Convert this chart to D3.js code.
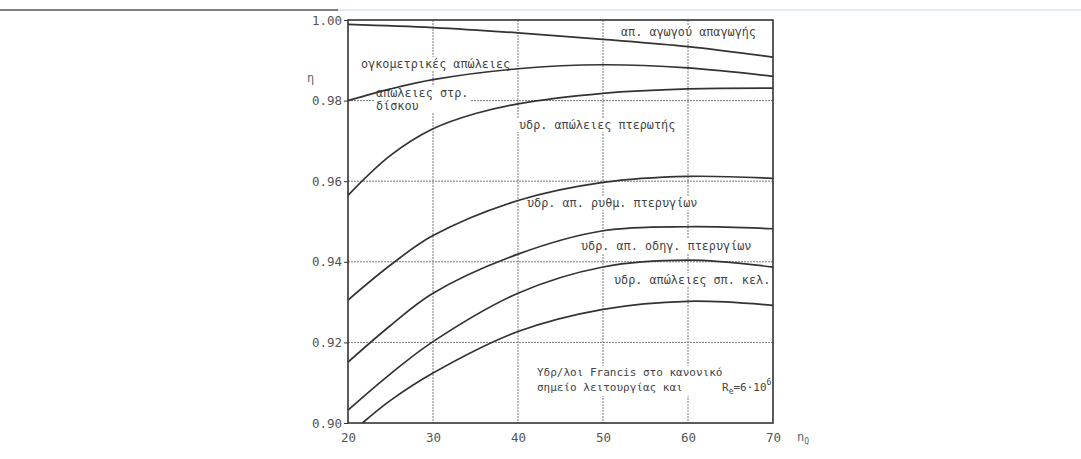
<!DOCTYPE html>
<html><head><meta charset="utf-8">
<script src="https://cdn.jsdelivr.net/npm/d3@7"></script>
<style>
html,body{margin:0;padding:0;background:#fff;}
svg{display:block;}
text{font-family:"DejaVu Sans Mono","Liberation Mono",monospace;}
</style></head>
<body>
<script>
// ---- data ----
const xTicks = [20, 30, 40, 50, 60, 70];
const yTicks = [0.90, 0.92, 0.94, 0.96, 0.98, 1.00];

const xA = [20, 30, 40, 50, 60, 70];
const yA = [0.9989, 0.9981, 0.9968, 0.9952, 0.9934, 0.9908];
const xB = [20, 25, 30, 40, 50, 60, 70];
const yB = [0.9800, 0.9829, 0.9852, 0.9879, 0.9889, 0.9881, 0.9860];
const xC = [20, 25, 30, 35, 40, 50, 60, 70];
const yC = [0.9565, 0.9664, 0.9730, 0.9768, 0.9792, 0.9818, 0.9829, 0.9831];
const xD = [20, 25, 30, 40, 50, 60, 70];
const yD = [0.9305, 0.9392, 0.9465, 0.9552, 0.9597, 0.9612, 0.9607];
const xE = [20, 25, 30, 40, 50, 60, 70];
const yE = [0.9151, 0.9242, 0.9322, 0.9419, 0.9477, 0.9487, 0.9482];
const xF = [20, 25, 30, 40, 50, 60, 70];
const yF = [0.9032, 0.9122, 0.9202, 0.9322, 0.9387, 0.9404, 0.9387];
const xG = [21.7, 25, 30, 40, 50, 60, 70];
const yG = [0.9000, 0.9056, 0.9124, 0.9227, 0.9282, 0.9302, 0.9292];

const curveX = [xA, xB, xC, xD, xE, xF, xG];
const curveY = [yA, yB, yC, yD, yE, yF, yG];

const regionLabels = [
  ["απ. αγωγού απαγωγής"],
  ["ογκομετρικές απώλειες"],
  ["απώλειες στρ.", "δίσκου"],
  ["υδρ. απώλειες πτερωτής"],
  ["υδρ. απ. ρυθμ. πτερυγίων"],
  ["υδρ. απ. οδηγ. πτερυγίων"],
  ["υδρ. απώλειες σπ. κελ."]
];
const noteLines = ["Υδρ/λοι Francis στο κανονικό", "σημείο λειτουργίας και"];

// ---- layout ----
const W = 1081, H = 459;
const svg = d3.select("body").append("svg").attr("width", W).attr("height", H);

const x = d3.scaleLinear().domain([20, 70]).range([348, 773]);
const y = d3.scaleLinear().domain([0.90, 1.00]).range([423, 20]);

// scan edge line at top
svg.append("line").attr("x1", 0).attr("x2", 338).attr("y1", 10).attr("y2", 10)
  .attr("stroke", "#555").attr("stroke-width", 1.5);
svg.append("line").attr("x1", 338).attr("x2", W).attr("y1", 10).attr("y2", 10)
  .attr("stroke", "#d6e6ef").attr("stroke-width", 1.5);

// gridlines
const grid = svg.append("g").attr("stroke", "#7a7a7a").attr("stroke-width", 1)
  .attr("stroke-dasharray", "2,1").attr("fill", "none");
grid.selectAll(".gx").data(xTicks.slice(1, -1)).join("line")
  .attr("x1", d => x(d)).attr("x2", d => x(d)).attr("y1", y(1.0)).attr("y2", y(0.90));
grid.selectAll(".gy").data(yTicks.slice(1, -1)).join("line")
  .attr("x1", x(20)).attr("x2", x(70)).attr("y1", d => y(d)).attr("y2", d => y(d));

// labels inside plot (with white backgrounds hiding grid)
const labG = svg.append("g");
const labelPos = [
  [621, 36], [361, 68], [376, 97], [519, 129], [527, 207], [581, 250], [614, 284]
];
function addLabel(lines, px, py, lh, fs) {
  const g = labG.append("g");
  const t = g.append("text").attr("font-size", fs).attr("fill", "#444");
  lines.forEach((s, i) => {
    t.append("tspan").attr("x", px).attr("y", py + i * lh).text(s);
  });
  return g;
}
regionLabels.forEach((ls, i) => addLabel(ls, labelPos[i][0], labelPos[i][1], 13, 11.8));

// note
const note = addLabel(noteLines, 537, 376, 15, 11);
const reT = note.append("text").attr("font-size", 11).attr("fill", "#444").attr("x", 722).attr("y", 391);
reT.append("tspan").text("R");
reT.append("tspan").attr("font-size", 8).attr("dy", 3).text("e");
reT.append("tspan").attr("dy", -3).text("=6·10");
reT.append("tspan").attr("font-size", 8).attr("dy", -6).text("6");

// white backgrounds
labG.selectAll("g").each(function() {
  const b = this.getBBox();
  d3.select(this).insert("rect", "text")
    .attr("x", b.x - 2).attr("y", b.y).attr("width", b.width + 4).attr("height", b.height)
    .attr("fill", "#fff");
});

// curves
const line = d3.line().x(d => x(d[0])).y(d => y(d[1])).curve(d3.curveCatmullRom.alpha(0.5));
svg.append("g").selectAll("path").data(curveX.map((xs, i) => xs.map((v, j) => [v, curveY[i][j]])))
  .join("path").attr("d", line).attr("fill", "none").attr("stroke", "#333").attr("stroke-width", 1.7);

// frame
svg.append("rect").attr("x", x(20)).attr("y", y(1.0)).attr("width", x(70) - x(20)).attr("height", y(0.90) - y(1.0))
  .attr("fill", "none").attr("stroke", "#333").attr("stroke-width", 1.6);

// axes
const yAxis = d3.axisLeft(y).tickValues(yTicks).tickFormat(d3.format(".2f")).tickSize(4).tickPadding(2);
const gy = svg.append("g").attr("transform", `translate(${x(20)},0)`).call(yAxis);
gy.select(".domain").remove();
gy.selectAll("line").attr("stroke", "#333");
gy.selectAll("text").attr("font-size", 12.5).attr("fill", "#555").attr("font-family", "DejaVu Sans Mono");

const xAxis = d3.axisBottom(x).tickValues(xTicks).tickSize(0).tickPadding(10);
const gx = svg.append("g").attr("transform", `translate(0,${y(0.90)})`).call(xAxis);
gx.select(".domain").remove();
gx.selectAll("text").attr("font-size", 12.5).attr("fill", "#555").attr("font-family", "DejaVu Sans Mono");

// axis symbols
svg.append("text").attr("x", 307).attr("y", 82).attr("font-size", 12).attr("fill", "#666").text("η");
const nq = svg.append("text").attr("x", 797).attr("y", 441).attr("font-size", 12).attr("fill", "#666");
nq.append("tspan").text("n");
nq.append("tspan").attr("font-size", 8).attr("dy", 3).text("Q");
</script>
</body></html>
